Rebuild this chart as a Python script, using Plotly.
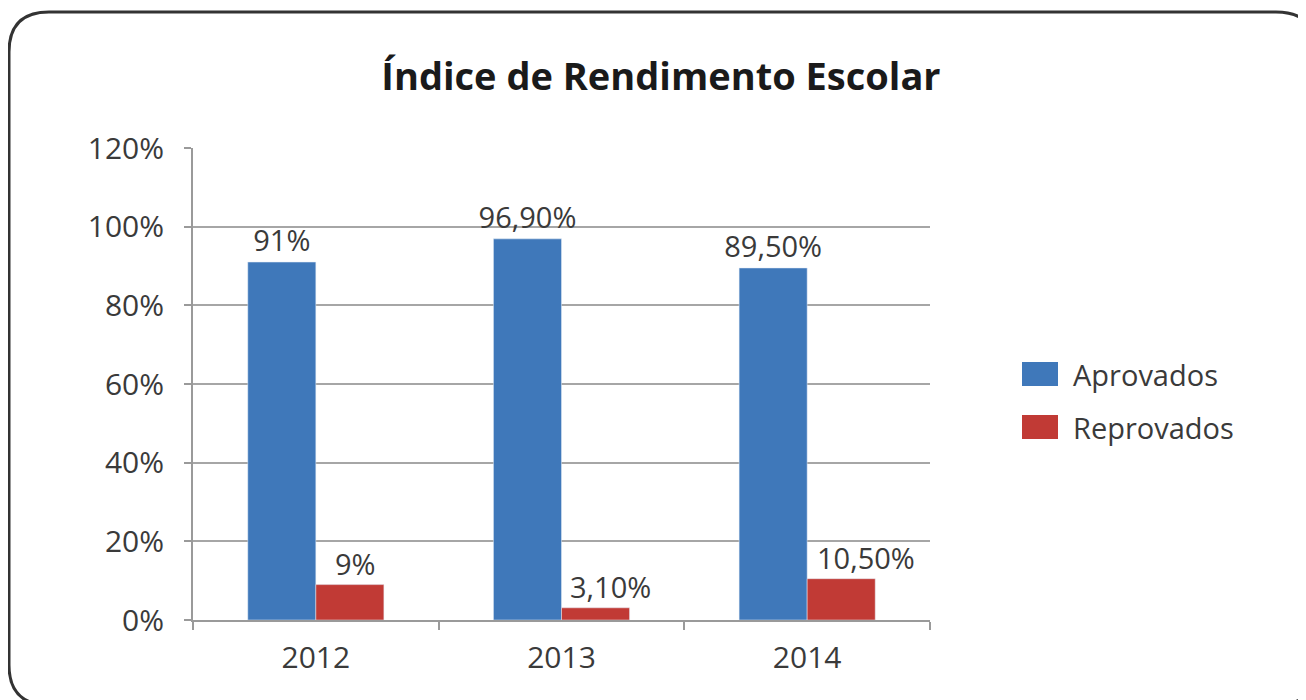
import plotly.graph_objects as go

categories = ["2012", "2013", "2014"]
aprovados = [91.0, 96.9, 89.5]
reprovados = [9.0, 3.1, 10.5]
aprovados_labels = ["91%", "96,90%", "89,50%"]
reprovados_labels = ["9%", "3,10%", "10,50%"]
series_names = ["Aprovados", "Reprovados"]
series_colors = ["#3F78BA", "#C13A35"]
y_ticks = [0, 20, 40, 60, 80, 100, 120]
y_tick_labels = ["0%", "20%", "40%", "60%", "80%", "100%", "120%"]
title = "Índice de Rendimento Escolar"

# label nudges (px) for the red series labels, as placed in the original
red_label_nudge = [6, 15, 25]

OFF = 8  # default page body margin
W, H = 1306 - OFF, 700 - OFF
L, R, T, B = 193 - OFF, 930 - OFF, 148 - OFF, 620 - OFF
FONT = "Open Sans, Noto Sans, sans-serif"
TXT = "#3a3a3a"
BAR_HALF = 34  # half of a bar's pixel width (group offset)

def px_x(px):
    return (px - OFF - L) / (R - L)

def px_y(py):
    return (B - (py - OFF)) / (B - T)

fig = go.Figure()
fig.add_trace(go.Bar(
    x=categories, y=aprovados, name=series_names[0], marker_color=series_colors[0],
    text=aprovados_labels, textposition="outside", cliponaxis=False, constraintext="none",
    textfont=dict(family=FONT, size=29, color=TXT), showlegend=False,
))
fig.add_trace(go.Bar(
    x=categories, y=reprovados, name=series_names[1], marker_color=series_colors[1],
    showlegend=False,
))

annotations = []
for i, (val, lab, nudge) in enumerate(zip(reprovados, reprovados_labels, red_label_nudge)):
    annotations.append(dict(x=i, y=val, xref="x", yref="y", text=lab, showarrow=False,
                            xanchor="center", yanchor="bottom", xshift=BAR_HALF + nudge,
                            yshift=0, font=dict(family=FONT, size=29, color=TXT)))

# Rounded border
bl, bt, br, bb, rad = 9, 12, 1316, 705, 40
def P(x, y):
    return f"{px_x(x):.5f},{px_y(y):.5f}"
path = (f"M {P(bl + rad, bt)} L {P(br - rad, bt)} Q {P(br, bt)} {P(br, bt + rad)} "
        f"L {P(br, bb - rad)} Q {P(br, bb)} {P(br - rad, bb)} "
        f"L {P(bl + rad, bb)} Q {P(bl, bb)} {P(bl, bb - rad)} "
        f"L {P(bl, bt + rad)} Q {P(bl, bt)} {P(bl + rad, bt)} Z")
shapes = [dict(type="path", xref="paper", yref="paper", path=path,
               line=dict(color="#333333", width=3), layer="below")]

# Custom legend
leg_rows = [374, 427]
for name, color, yc in zip(series_names, series_colors, leg_rows):
    shapes.append(dict(type="rect", xref="paper", yref="paper",
                       x0=px_x(1022), x1=px_x(1058), y0=px_y(yc + 12), y1=px_y(yc - 12),
                       fillcolor=color, line=dict(width=0)))
    annotations.append(dict(xref="paper", yref="paper", x=px_x(1071), y=px_y(yc),
                            xanchor="left", yanchor="middle", text=name, showarrow=False,
                            font=dict(family=FONT, size=29, color=TXT)))

fig.update_layout(
    width=W, height=H,
    margin=dict(l=L, r=W - R, t=T, b=H - B, pad=0),
    paper_bgcolor="white", plot_bgcolor="white",
    barmode="group", bargap=0.446, bargroupgap=0,
    title=dict(text=f"<b>{title}</b>", x=(661 - OFF) / W, xanchor="center",
               y=1 - (77 - OFF) / H, yanchor="middle",
               font=dict(family=FONT, size=38, color="#1a1a1a")),
    xaxis=dict(type="category", range=[-0.5, len(categories) - 0.5],
               showgrid=False, showline=True, linecolor="#9a9a9a", linewidth=2,
               ticks="outside", tickson="boundaries", ticklen=8, tickcolor="#9a9a9a",
               tickwidth=2, ticklabelstandoff=10,
               tickfont=dict(family=FONT, size=30, color=TXT)),
    yaxis=dict(range=[0, 120], tickvals=y_ticks, ticktext=y_tick_labels,
               showgrid=True, gridcolor="#a6a6a6", gridwidth=2,
               showline=True, linecolor="#9a9a9a", linewidth=2, zeroline=False,
               ticks="outside", ticklen=7, tickcolor="#9a9a9a", tickwidth=2,
               ticklabelstandoff=14,
               tickfont=dict(family=FONT, size=30, color=TXT)),
    shapes=shapes, annotations=annotations,
    font=dict(family=FONT),
)

fig.write_html("out.html")
